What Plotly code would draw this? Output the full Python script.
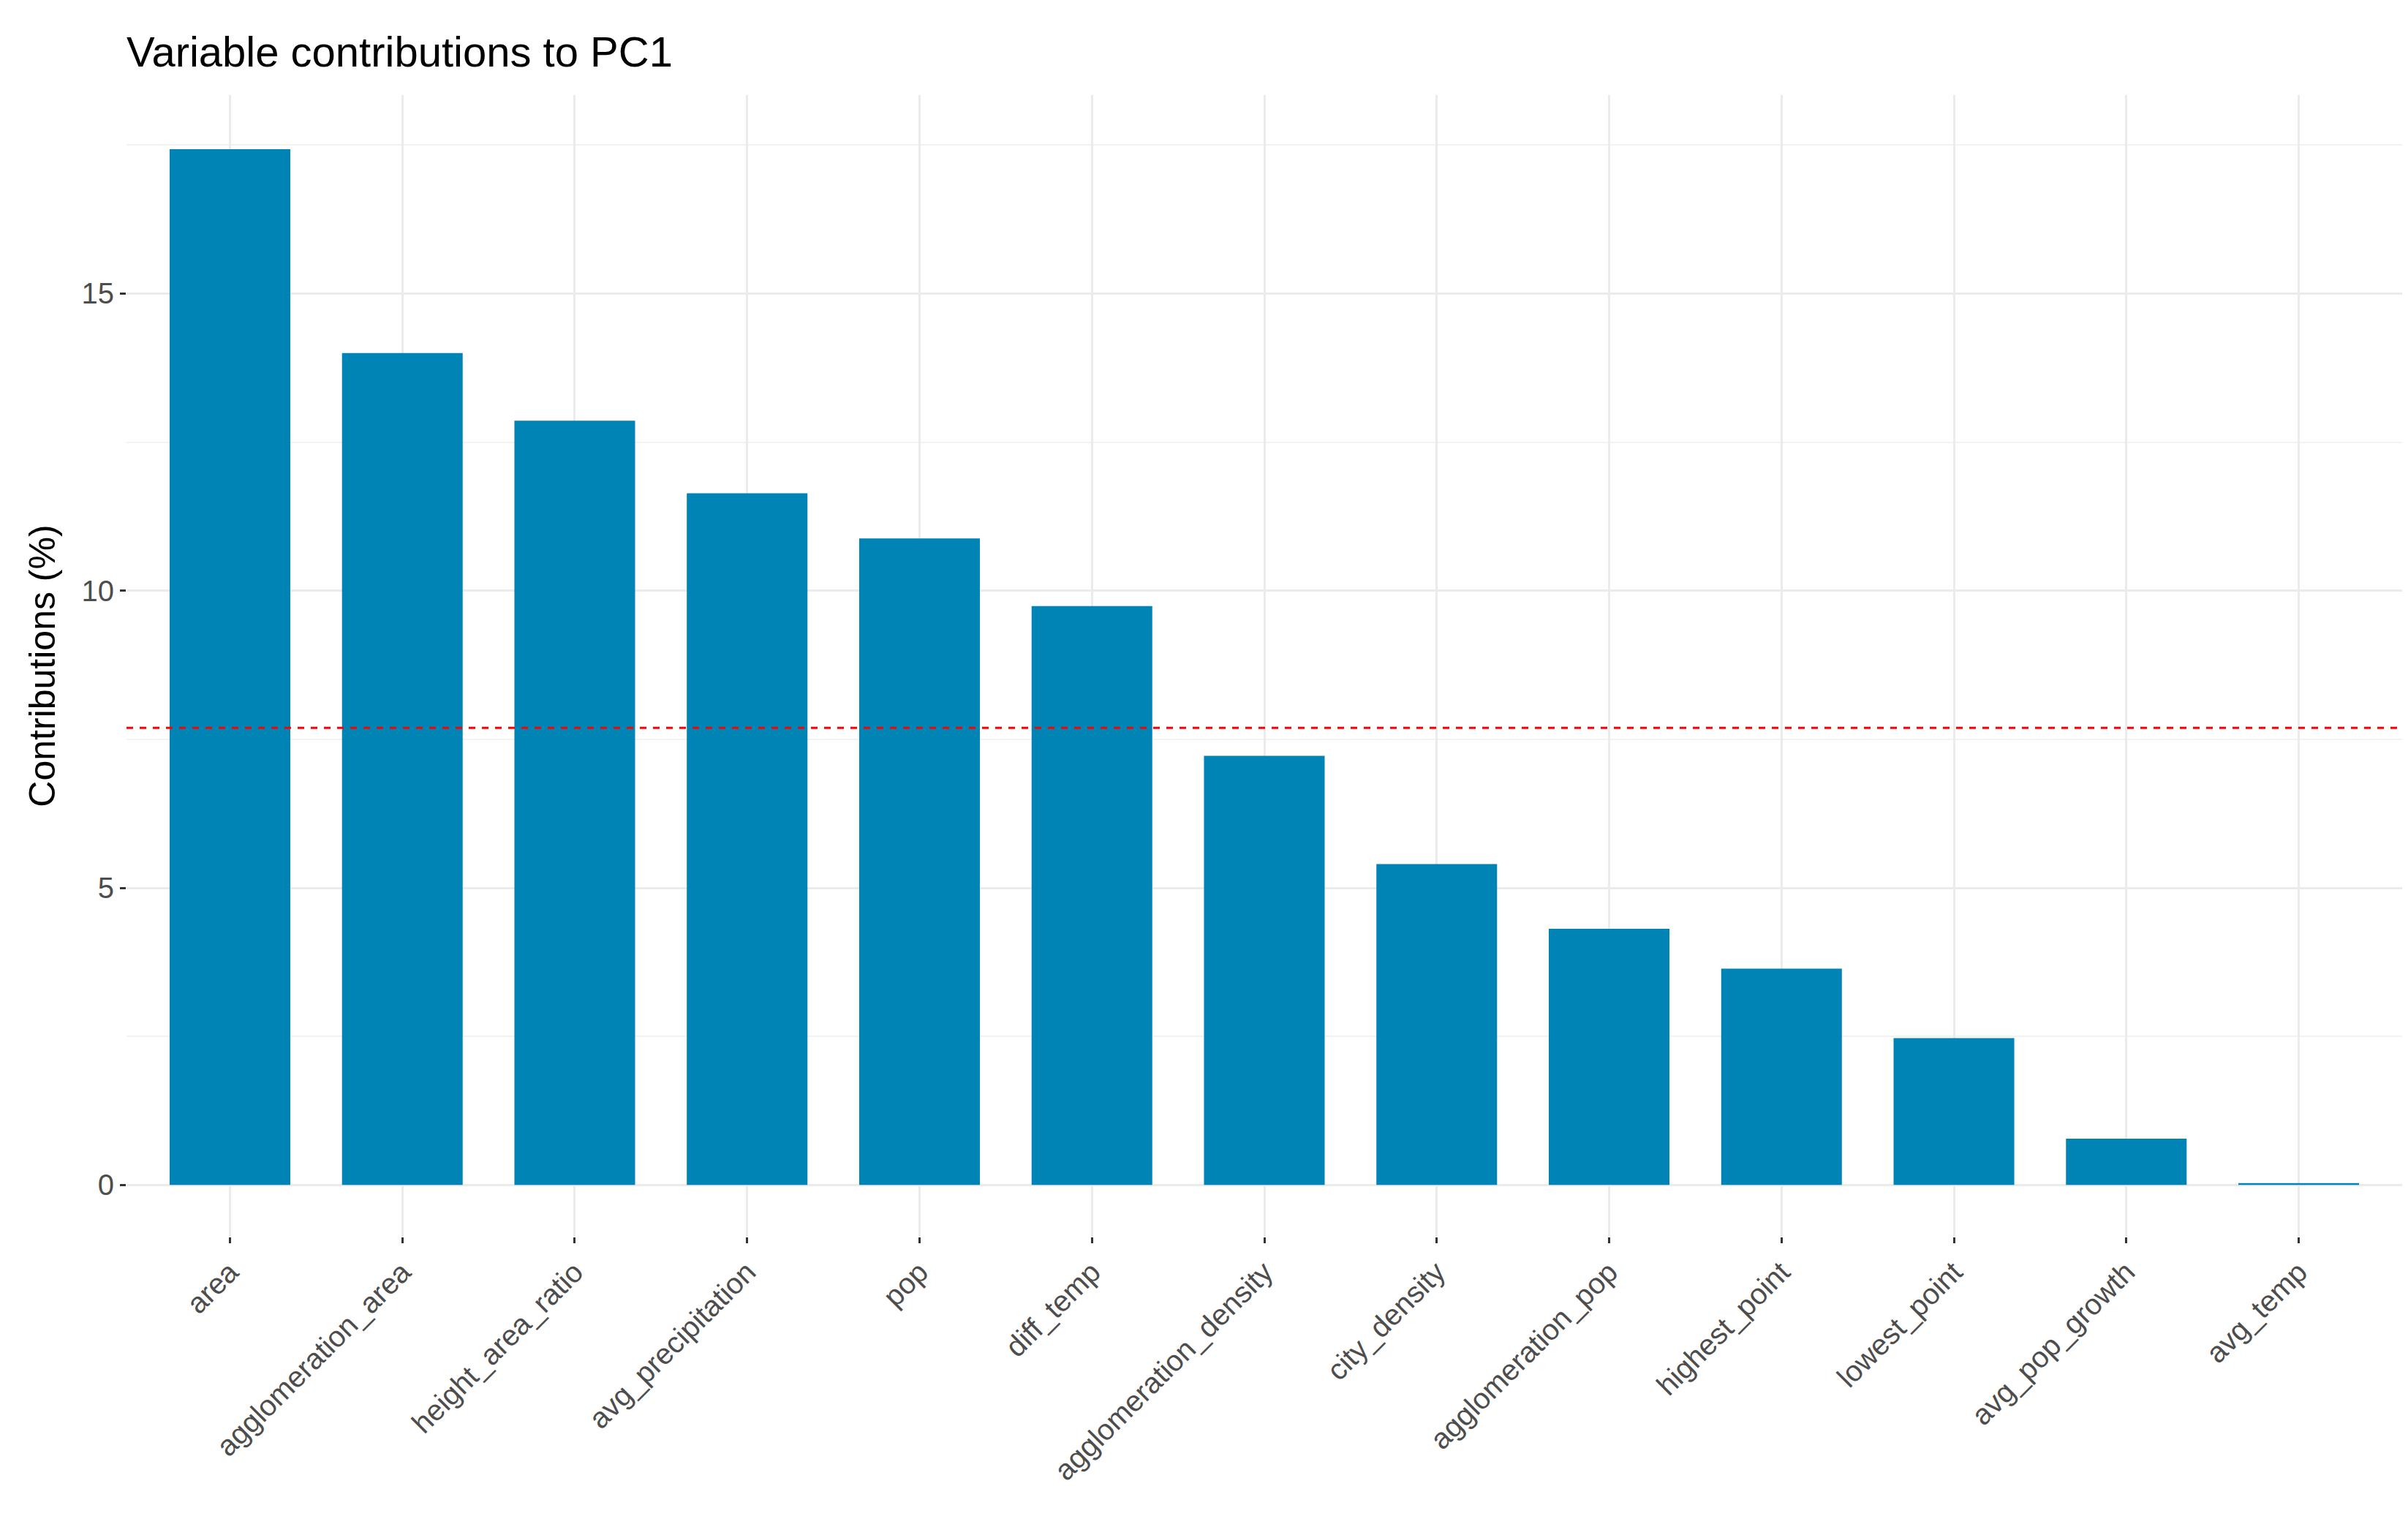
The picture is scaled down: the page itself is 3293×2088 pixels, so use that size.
import plotly.graph_objects as go

variables = ["area", "agglomeration_area", "height_area_ratio", "avg_precipitation", "pop",
             "diff_temp", "agglomeration_density", "city_density", "agglomeration_pop",
             "highest_point", "lowest_point", "avg_pop_growth", "avg_temp"]
contrib = [17.43, 14.0, 12.86, 11.64, 10.88, 9.74, 7.22, 5.40, 4.31, 3.64, 2.47, 0.78, 0.03]
expected = 100 / 13

fig = go.Figure()
fig.add_trace(go.Bar(x=variables, y=contrib, width=0.7, marker=dict(color="#0083B5", line_width=0)))
fig.add_hline(y=expected, line=dict(color="red", dash="dash", width=3))

font = "Liberation Sans, Arial, sans-serif"
fig.update_layout(
    width=3293, height=2088, plot_bgcolor="white", paper_bgcolor="white",
    margin=dict(l=165, r=16, t=122, b=405), showlegend=False,
    title=dict(text="Variable contributions to PC1", x=165 / 3293, xanchor="left",
               y=1 - 63 / 2088, yanchor="middle", font=dict(family=font, size=58, color="black")),
    font=dict(family=font),
)
fig.update_xaxes(range=[-0.6, 12.6], showgrid=True, gridcolor="#EBEBEB", gridwidth=3,
                 tickangle=-45, tickfont=dict(size=40, color="#4D4D4D"),
                 ticks="outside", ticklen=8, tickwidth=3, tickcolor="#333333", showline=False)
fig.update_yaxes(range=[-0.87, 18.34], tickvals=[0, 5, 10, 15], showgrid=True, gridcolor="#EBEBEB",
                 gridwidth=3, minor=dict(tickvals=[2.5, 7.5, 12.5, 17.5], showgrid=True,
                                         gridcolor="#F2F2F2", gridwidth=2),
                 zeroline=False, ticks="outside", ticklen=8, tickwidth=3, tickcolor="#333333",
                 tickfont=dict(size=40, color="#4D4D4D"),
                 title=dict(text="Contributions (%)", font=dict(size=50, color="black"), standoff=20))

fig.write_html("out.html")
